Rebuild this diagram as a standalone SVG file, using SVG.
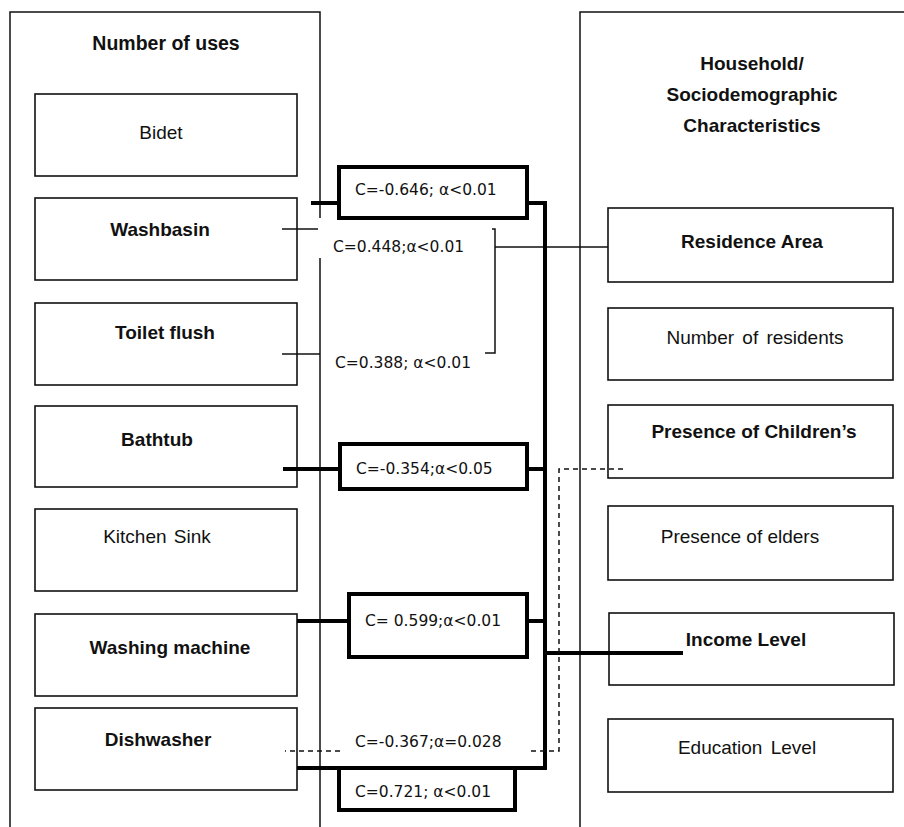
<svg xmlns="http://www.w3.org/2000/svg" width="904" height="827" viewBox="0 0 904 827">
<style>
.bg{fill:#fff}
.panel{fill:none;stroke:#111;stroke-width:1.5}
.box{fill:#fff;stroke:#111;stroke-width:1.6}
.cbox{fill:#fff;stroke:#000;stroke-width:4}
.lbl{font-family:"Liberation Sans",Arial,sans-serif;font-size:19px;fill:#111;text-anchor:middle}
.b{font-weight:bold}
.t{font-size:19.5px}
.ct{font-family:"DejaVu Sans",Verdana,sans-serif;font-size:15.5px;fill:#111}
.thin{fill:none;stroke:#111;stroke-width:1.5}
.thick{fill:none;stroke:#000;stroke-width:4}
.dash{fill:none;stroke:#111;stroke-width:1.5;stroke-dasharray:5 4}
</style>
<rect class="bg" x="0" y="0" width="904" height="827"/>
<g id="panel-left">
<path class="panel" d="M10,827 V12 H320 V218 M320,258 V827"/>
<text class="lbl b t" x="166" y="50">Number of uses</text>
</g>
<g id="panel-right">
<path class="panel" d="M580,827 V12 H904"/>
<text class="lbl b" x="752" y="70">Household/</text>
<text class="lbl b" x="752" y="101">Sociodemographic</text>
<text class="lbl b" x="752" y="132">Characteristics</text>
</g>
<g id="bidet"><rect class="box" x="35" y="94" width="262" height="82"/><text class="lbl" x="161" y="139">Bidet</text></g>
<g id="washbasin"><rect class="box" x="35" y="198" width="262" height="82"/><text class="lbl b" x="160" y="236">Washbasin</text></g>
<g id="toilet-flush"><rect class="box" x="35" y="303" width="262" height="82"/><text class="lbl b" x="165" y="339">Toilet flush</text></g>
<g id="bathtub"><rect class="box" x="35" y="406" width="262" height="81"/><text class="lbl b" x="157" y="446">Bathtub</text></g>
<g id="kitchen-sink"><rect class="box" x="35" y="509" width="262" height="82"/><text class="lbl" x="157" y="543" word-spacing="2">Kitchen Sink</text></g>
<g id="washing-machine"><rect class="box" x="35" y="614" width="262" height="82"/><text class="lbl b" x="170" y="654">Washing machine</text></g>
<g id="dishwasher"><rect class="box" x="35" y="708" width="262" height="82"/><text class="lbl b" x="158" y="746">Dishwasher</text></g>
<g id="residence-area"><rect class="box" x="608" y="208" width="285" height="74"/><text class="lbl b" x="752" y="248">Residence Area</text></g>
<g id="number-of-residents"><rect class="box" x="608" y="308" width="285" height="72"/><text class="lbl" x="755" y="344" word-spacing="3">Number of residents</text></g>
<g id="presence-children"><rect class="box" x="608" y="405" width="285" height="73"/><text class="lbl b" x="754" y="438">Presence of Children’s</text></g>
<g id="presence-elders"><rect class="box" x="608" y="506" width="285" height="74"/><text class="lbl" x="740" y="543">Presence of elders</text></g>
<g id="income-level"><rect class="box" x="609" y="613" width="285" height="72"/><text class="lbl b" x="746" y="646">Income Level</text></g>
<g id="education-level"><rect class="box" x="608" y="719" width="285" height="73"/><text class="lbl" x="747" y="754" word-spacing="3">Education Level</text></g>
<g id="connectors">
<path class="thin" d="M282,229 H318"/>
<path class="thin" d="M282,354 H320"/>
<path class="thin" d="M492,229 H495 V353 H485 M495,247 H608"/>
<path class="thick" d="M311,203 H339 M527,203 H545 V768 H297"/>
<path class="thick" d="M283,469 H340 M527,469 H545"/>
<path class="thick" d="M297,621 H349 M527,621 H545"/>
<path class="thick" d="M545,653 H683"/>
<path class="dash" d="M623,469 H559 V751 H530"/>
<path class="dash" d="M340,751 H285"/>
<rect class="cbox" x="339" y="167" width="188" height="51"/>
<rect class="cbox" x="340" y="444" width="187" height="45"/>
<rect class="cbox" x="349" y="594" width="178" height="63"/>
<path class="thick" d="M339,768 V810 H515 V768"/>
<text class="ct" x="355" y="195">C=-0.646; α&lt;0.01</text>
<text class="ct" x="333" y="252">C=0.448;α&lt;0.01</text>
<text class="ct" x="335" y="368">C=0.388; α&lt;0.01</text>
<text class="ct" x="356" y="474">C=-0.354;α&lt;0.05</text>
<text class="ct" x="365" y="626">C= 0.599;α&lt;0.01</text>
<text class="ct" x="355" y="747">C=-0.367;α=0.028</text>
<text class="ct" x="355" y="797">C=0.721; α&lt;0.01</text>
</g>
</svg>
